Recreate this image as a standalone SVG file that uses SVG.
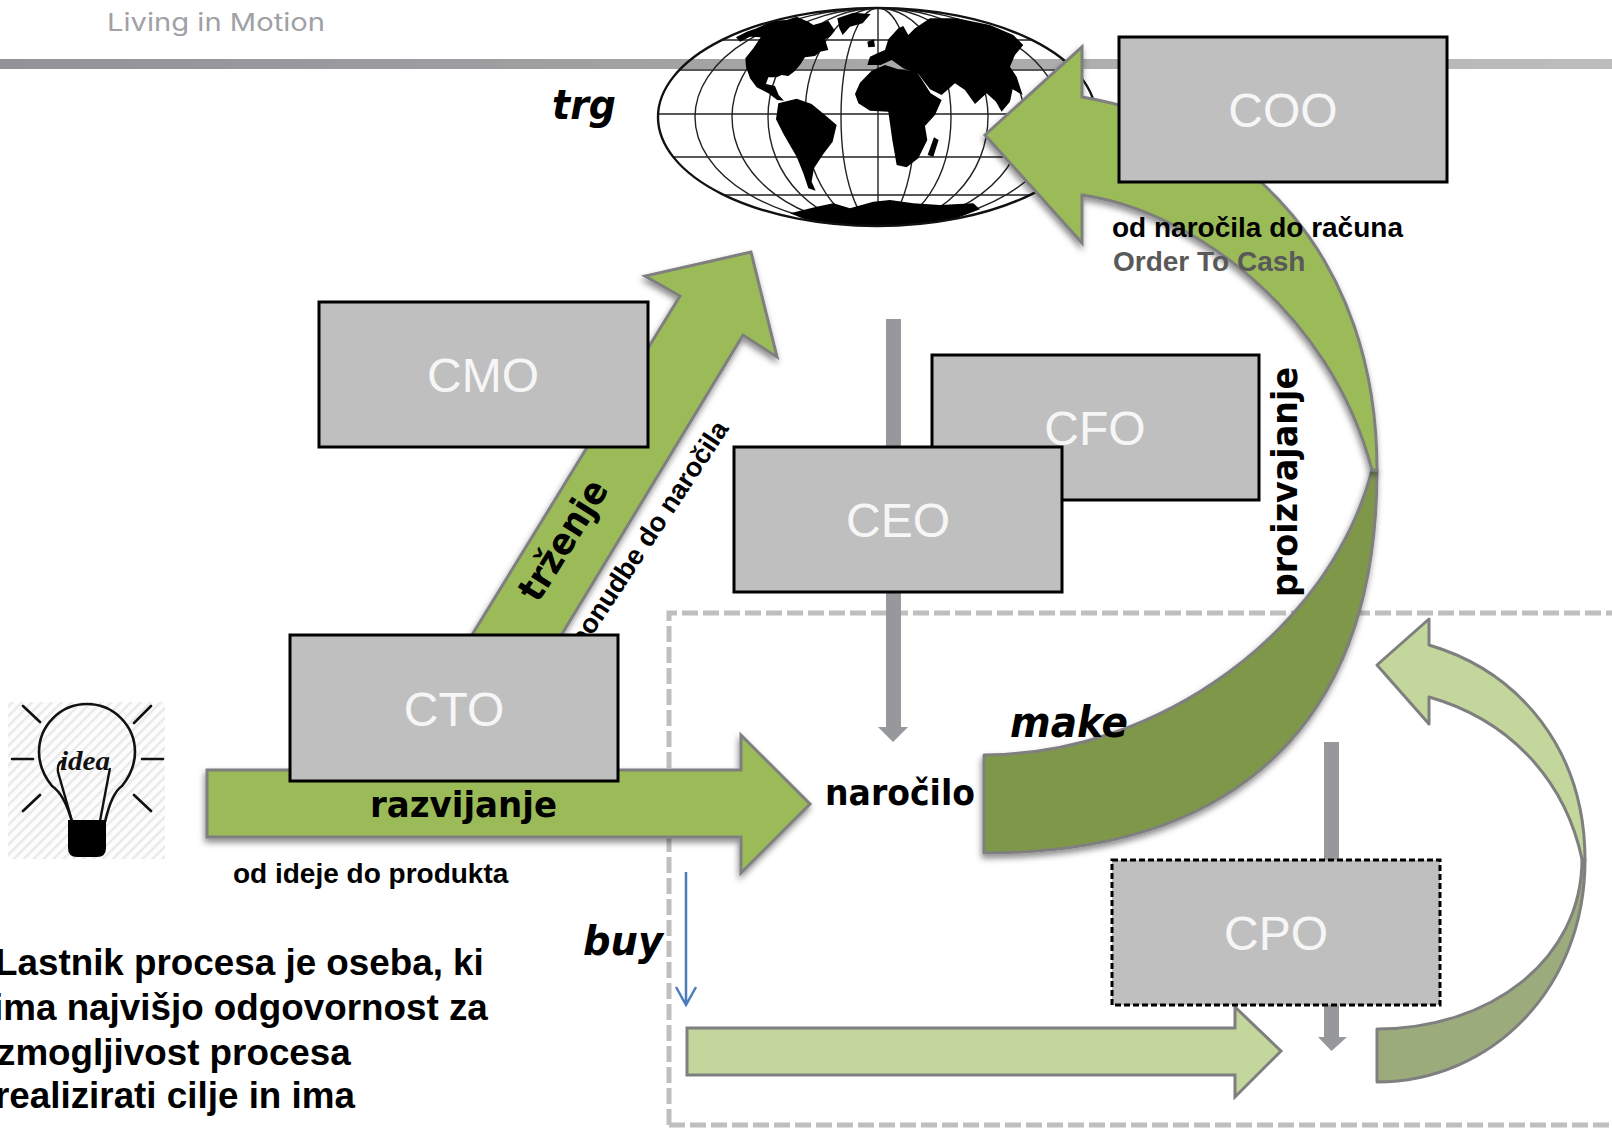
<svg xmlns="http://www.w3.org/2000/svg" width="1612" height="1128" viewBox="0 0 1612 1128">
<style>
text{font-family:"Liberation Sans",Arial,sans-serif}
.box{fill:#bfbfbf;stroke:#000;stroke-width:3}
.bt{fill:#f6f6f6;font-size:48px;text-anchor:middle}
.lab{font-weight:bold;fill:#000}
.dj{font-family:"DejaVu Sans",sans-serif;font-weight:bold;fill:#000}
.ob{font-style:italic}
.ar{stroke:#7f7f7f;stroke-width:3;stroke-linejoin:round}
.g{fill:#9bbb59}.dg{fill:#7f974a}.lg{fill:#c3d69b}.ldg{fill:#9bab7c}
.gr{fill:#97989c}
.mer{fill:none;stroke:#222;stroke-width:1.4}
.ray{stroke:#111;stroke-width:2.6;stroke-linecap:round;fill:none}
</style>
<defs>
<linearGradient id="bar" x1="0" x2="1" y1="0" y2="0"><stop offset="0" stop-color="#929297"/><stop offset=".5" stop-color="#a6a6a8"/><stop offset="1" stop-color="#bdbdbd"/></linearGradient>
<filter id="sh" x="-10%" y="-10%" width="120%" height="120%"><feDropShadow dx="-1" dy="4" stdDeviation="3" flood-color="#000" flood-opacity=".45"/></filter>
<pattern id="hatch" width="7" height="7" patternUnits="userSpaceOnUse" patternTransform="rotate(-45)"><rect width="7" height="7" fill="#fdfdfd"/><rect width="7" height="2.4" fill="#e9e9e9"/></pattern>
<clipPath id="glob"><ellipse cx="877" cy="117" rx="219" ry="109"/></clipPath>
</defs>
<rect width="1612" height="1128" fill="#fff"/>
<text x="107" y="31" font-size="24.5" fill="#a0a1a5" textLength="218" lengthAdjust="spacingAndGlyphs" style="font-family:Inter,sans-serif;font-weight:400">Living in Motion</text>
<g id="globe">
<ellipse cx="877" cy="117" rx="219" ry="109" fill="#fff"/>
<rect x="0" y="59" width="1612" height="10" fill="url(#bar)"/>
<g clip-path="url(#glob)">
<path class="mer" d="M658 114H1096M658 157H1096M658 195H1096M658 70H1096M700 40H1054"/>
<path class="mer" d="M878 8V226"/>
<ellipse class="mer" cx="878" cy="117" rx="37" ry="109"/>
<ellipse class="mer" cx="878" cy="117" rx="73" ry="109"/>
<ellipse class="mer" cx="878" cy="117" rx="110" ry="109"/>
<ellipse class="mer" cx="878" cy="117" rx="146" ry="109"/>
<ellipse class="mer" cx="878" cy="117" rx="183" ry="109"/>
<g transform="translate(640 0) scale(.3333)" fill="#000">
<path d="M288 112L320 95L350 85L400 62L440 60L470 50L505 65L520 75L565 62L585 92L570 110L555 118L565 150L540 155L525 168L495 172L480 195L462 215L445 228L425 225L410 232L385 232L378 252L405 258L416 285L432 302L412 300L385 280L350 262L330 235L318 200L316 175L340 145L362 112L330 110L300 125Z"/>
<path d="M592 55L640 38L692 42L668 70L630 80L608 105L598 85Z"/>
<path d="M415 310L470 296L515 312L555 345L590 375L578 425L550 462L522 505L515 545L527 572L505 565L490 520L470 470L432 405L408 358Z"/>
<path d="M695 212L735 195L775 208L830 215L850 245L872 280L905 300L885 345L855 378L862 420L835 475L800 502L770 495L757 420L745 335L690 332L655 310L645 282L660 248Z"/>
<path d="M682 195L690 170L712 160L735 150L745 118L775 85L790 78L805 105L825 85L870 55L950 55L1050 75L1120 105L1150 135L1125 165L1110 200L1130 230L1148 285L1118 268L1110 305L1085 335L1068 305L1040 280L1005 312L975 270L945 250L905 285L870 268L835 222L790 205L755 180L722 195Z"/>
<path d="M882 412L896 420L880 470L863 465Z"/>
<path d="M682 125L702 118L705 140L685 142Z"/>
<path d="M450 640L530 620L580 610L630 625L700 605L750 600L820 610L900 615L1000 610L1020 628L950 655L850 675L720 680L590 672L500 660Z"/>
</g>
</g>
<ellipse cx="877" cy="117" rx="219" ry="109" fill="none" stroke="#111" stroke-width="2.4"/>
</g>
<g id="idea-bulb">
<rect x="8" y="702" width="157" height="157" fill="url(#hatch)"/>
<path d="M72 822C66 800 58 790 52 786C44 776 39 765 39 752A48 48 0 0 1 135 752C135 765 130 776 122 786C116 790 110 800 105 822" fill="none" stroke="#111" stroke-width="2.6"/>
<path d="M72 821L58 772Q57 762 63 761M100 821L110 768" fill="none" stroke="#111" stroke-width="2.4"/>
<path d="M68 820H106V848Q106 857 97 857H77Q68 857 68 848Z" fill="#000"/>
<path class="ray" d="M23 706L40 722M151 706L134 723M12 759H33M163 759H142M23 811L40 795M151 811L134 795"/>
<text x="60" y="770" font-size="27" font-style="italic" fill="#111" textLength="50" lengthAdjust="spacingAndGlyphs" style="font-family:'Liberation Serif',serif;font-weight:bold">idea</text>
</g>
<g id="dashed-region"><path d="M669 1125V613H1612M669 1125H1612" fill="none" stroke="#bfbfbf" stroke-width="5" stroke-dasharray="16 5"/></g>
<g id="connectors">
<path class="gr" d="M886 319H901V727H908L893 742L878 727H886Z"/>
<path class="gr" d="M1324 742H1339V1037H1347L1331.500 1051L1318 1037H1324Z"/>
<path d="M686 872V1004M676 987L686 1005L696 987" fill="none" stroke="#4a7ebb" stroke-width="2.500"/>
<path class="ar lg" style="stroke-linejoin:miter" d="M687 1028H1235V1007L1281 1051L1235 1097V1075H687Z"/>
<path class="ar ldg" d="M1377 1029C1490 1029 1582 960 1582 859L1585 860C1585 990 1490 1082 1377 1082Z"/>
<path class="ar lg" d="M1377 665L1429 619V645C1520 672 1585 750 1585 860L1582 859C1565 780 1510 720 1429 697V724Z"/>
<path class="ar dg" filter="url(#sh)" d="M984 755C1160 755 1330 630 1372 470L1377 470C1377 720 1240 853 984 853Z"/>
<path class="ar g" filter="url(#sh)" style="stroke-linejoin:miter" d="M985 135L1082 47V97C1250 125 1377 260 1377 470L1372 470C1330 310 1190 210 1082 195V243Z"/>
<path class="ar g" filter="url(#sh)" style="stroke-linejoin:miter" d="M432 700L680 296L645 276L751 252L777 357L743 335L522 700Z"/>
<path class="ar g" filter="url(#sh)" style="stroke-linejoin:miter" d="M207 770H741V735L810 804L741 873V837H207Z"/>
</g>
<g class="labels">
<text class="dj ob" x="552" y="119" font-size="41" textLength="64" lengthAdjust="spacingAndGlyphs">trg</text>
<text class="dj ob" x="1010" y="737" font-size="42" textLength="118" lengthAdjust="spacingAndGlyphs">make</text>
<text class="dj ob" x="583" y="955" font-size="41" textLength="80" lengthAdjust="spacingAndGlyphs">buy</text>
<text class="dj" x="370" y="817" font-size="36" textLength="187" lengthAdjust="spacingAndGlyphs">razvijanje</text>
<text class="dj" x="825" y="805" font-size="36" textLength="150" lengthAdjust="spacingAndGlyphs">naročilo</text>
<text class="dj" transform="translate(1297 597) rotate(-90)" font-size="36" textLength="230" lengthAdjust="spacingAndGlyphs">proizvajanje</text>
<text class="dj" transform="translate(538 604) rotate(-58)" font-size="37" textLength="135" lengthAdjust="spacingAndGlyphs">trženje</text>
<text class="lab" transform="translate(583 650) rotate(-56.500)" font-size="27">ponudbe do naročila</text>
<text class="lab" x="1112" y="237" font-size="28">od naročila do računa</text>
<text class="lab" x="1113" y="271" font-size="28" style="fill:#595959">Order To Cash</text>
<text class="lab" x="233" y="883" font-size="28">od ideje do produkta</text>
<text class="lab" font-size="36.800"><tspan x="-5" y="975">Lastnik procesa je oseba, ki</tspan><tspan x="-7" y="1020">ima najvišjo odgovornost za</tspan><tspan x="-3" y="1065">zmogljivost procesa</tspan><tspan x="-5" y="1108">realizirati cilje in ima</tspan></text>
</g>
<g id="CFO"><rect class="box" x="932" y="355" width="327" height="145"/><text class="bt" x="1095" y="445">CFO</text></g>
<g id="CEO"><rect class="box" x="734" y="447" width="328" height="145"/><text class="bt" x="898" y="537">CEO</text></g>
<g id="CMO"><rect class="box" x="319" y="302" width="329" height="145"/><text class="bt" x="483" y="392">CMO</text></g>
<g id="CTO"><rect class="box" x="290" y="635" width="328" height="146"/><text class="bt" x="454" y="726">CTO</text></g>
<g id="COO"><rect class="box" x="1119" y="37" width="328" height="145"/><text class="bt" x="1283" y="127">COO</text></g>
<g id="CPO"><rect class="box" x="1112" y="860" width="328" height="145" stroke-dasharray="6 3"/><text class="bt" x="1276" y="950">CPO</text></g>
</svg>
